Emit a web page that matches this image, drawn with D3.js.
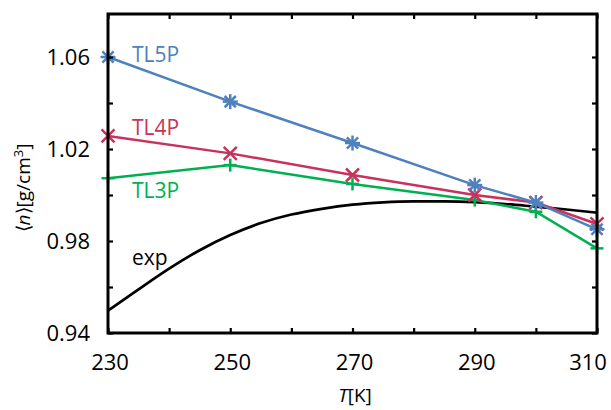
<!DOCTYPE html>
<html>
<head>
<meta charset="utf-8">
<script src="https://cdn.jsdelivr.net/npm/d3@7"></script>
<style>
  html, body { margin: 0; padding: 0; background: #fff; }
  svg { display: block; }
</style>
</head>
<body>
<div id="chart"></div>
<script>
// ── DATA ────────────────────────────────────────────────────────────────
const temps = [230, 250, 270, 290, 300, 310];
const tl5p  = [1.0600, 1.0406, 1.0226, 1.0043, 0.9967, 0.9851];
const tl4p  = [1.0257, 1.0181, 1.0087, 1.0000, 0.9967, 0.9874];
const tl3p  = [1.0073, 1.0130, 1.0048, 0.9978, 0.9927, 0.9768];

const expT = [230, 235, 240, 245, 250, 255, 260, 265, 270, 275, 280, 285, 290, 295, 300, 305, 310];
const expN = [0.9497, 0.9590, 0.9680, 0.9760, 0.9826, 0.9878, 0.9915, 0.9940, 0.9958,
              0.9968, 0.9972, 0.9972, 0.9969, 0.9961, 0.9949, 0.9937, 0.9923];

const xLabels = [230, 250, 270, 290, 310];
const yLabels = [0.94, 0.98, 1.02, 1.06];

const series = [
  { key: "TL3P", values: tl3p, color: "#00b050", marker: "plus",     lx: 132, ly: 198 },
  { key: "TL4P", values: tl4p, color: "#c8325c", marker: "cross",    lx: 132, ly: 135 },
  { key: "TL5P", values: tl5p, color: "#4f81bd", marker: "asterisk", lx: 132, ly: 62 },
];

// ── LAYOUT ──────────────────────────────────────────────────────────────
const totalW = 611, totalH = 410;
const margin = { top: 14, right: 14, bottom: 77, left: 108 };
const W = totalW - margin.left - margin.right;
const H = totalH - margin.top - margin.bottom;
const FONT = "'Open Sans', 'Noto Sans', sans-serif";

const x = d3.scaleLinear().domain([230, 310]).range([0, W]);
const y = d3.scaleLinear().domain([0.94, 1.0787]).range([H, 0]);

const svg = d3.select("#chart").append("svg")
  .attr("width", totalW)
  .attr("height", totalH);

svg.append("rect").attr("width", totalW).attr("height", totalH).attr("fill", "#fff");

const g = svg.append("g").attr("transform", `translate(${margin.left},${margin.top})`);

// ── CURVES ──────────────────────────────────────────────────────────────
const expLine = d3.line()
  .x((d, i) => x(expT[i]))
  .y(d => y(d))
  .curve(d3.curveMonotoneX);

g.append("path")
  .datum(expN)
  .attr("fill", "none")
  .attr("stroke", "#000")
  .attr("stroke-width", 2.7)
  .attr("d", expLine);

const simLine = d3.line()
  .x((d, i) => x(temps[i]))
  .y(d => y(d));

function marker(sel, type, color) {
  const r = type === "asterisk" ? 7.5 : 6.5;
  const segs = [];
  if (type === "plus" || type === "asterisk") {
    segs.push([-r, 0, r, 0], [0, -r, 0, r]);
  }
  if (type === "cross" || type === "asterisk") {
    const q = type === "asterisk" ? r * 0.75 : r;
    segs.push([-q, -q, q, q], [-q, q, q, -q]);
  }
  segs.forEach(s => {
    sel.append("line")
      .attr("x1", s[0]).attr("y1", s[1])
      .attr("x2", s[2]).attr("y2", s[3])
      .attr("stroke", color)
      .attr("stroke-width", 2.5);
  });
}

series.forEach(s => {
  g.append("path")
    .datum(s.values)
    .attr("fill", "none")
    .attr("stroke", s.color)
    .attr("stroke-width", 2.5)
    .attr("d", simLine);

  s.values.forEach((v, i) => {
    const m = g.append("g").attr("transform", `translate(${x(temps[i])},${y(v)})`);
    marker(m, s.marker, s.color);
  });

  svg.append("text")
    .attr("x", s.lx)
    .attr("y", s.ly)
    .attr("fill", s.color)
    .attr("font-family", FONT)
    .attr("font-size", "21px")
    .text(s.key);
});

svg.append("text")
  .attr("x", 132)
  .attr("y", 265)
  .attr("fill", "#000")
  .attr("font-family", FONT)
  .attr("font-size", "21px")
  .text("exp");

// ── FRAME & TICKS ───────────────────────────────────────────────────────
const tickLen = 5;
const xTicks = d3.range(230, 311, 10);
const yTicks = d3.range(0.94, 1.0787, 0.02);

g.append("g")
  .attr("transform", `translate(0,${H})`)
  .call(d3.axisBottom(x).tickValues(xTicks).tickSize(-tickLen).tickFormat(""))
  .call(ax => ax.select(".domain").remove());
g.append("g")
  .call(d3.axisTop(x).tickValues(xTicks).tickSize(-tickLen).tickFormat(""))
  .call(ax => ax.select(".domain").remove());
g.append("g")
  .call(d3.axisLeft(y).tickValues(yTicks).tickSize(-tickLen).tickFormat(""))
  .call(ax => ax.select(".domain").remove());
g.append("g")
  .attr("transform", `translate(${W},0)`)
  .call(d3.axisRight(y).tickValues(yTicks).tickSize(-tickLen).tickFormat(""))
  .call(ax => ax.select(".domain").remove());
g.selectAll(".tick line").attr("stroke", "#000").attr("stroke-width", 2.2);

g.append("rect")
  .attr("width", W)
  .attr("height", H)
  .attr("fill", "none")
  .attr("stroke", "#000")
  .attr("stroke-width", 3);

// ── TICK LABELS ─────────────────────────────────────────────────────────
g.selectAll(".xlab")
  .data(xLabels)
  .enter().append("text")
  .attr("x", d => x(d))
  .attr("y", H + 37)
  .attr("dx", d => d === 310 ? -9 : 2)
  .attr("text-anchor", "middle")
  .attr("font-family", FONT)
  .attr("font-size", "22px")
  .attr("fill", "#000")
  .text(d => d);

g.selectAll(".ylab")
  .data(yLabels)
  .enter().append("text")
  .attr("x", -18)
  .attr("y", d => y(d))
  .attr("dy", "0.36em")
  .attr("text-anchor", "end")
  .attr("font-family", FONT)
  .attr("font-size", "22px")
  .attr("fill", "#000")
  .text(d => d3.format(".2f")(d));

// ── AXIS TITLES ─────────────────────────────────────────────────────────
const xt = svg.append("text")
  .attr("x", 355)
  .attr("y", 402)
  .attr("text-anchor", "middle")
  .attr("font-family", FONT)
  .attr("font-size", "19px")
  .attr("fill", "#000");
xt.append("tspan").attr("font-style", "italic").text("T");
xt.append("tspan").text("[K]");

const yt = svg.append("text")
  .attr("transform", "translate(30,188) rotate(-90)")
  .attr("text-anchor", "middle")
  .attr("font-family", FONT)
  .attr("font-size", "19px")
  .attr("fill", "#000");
yt.append("tspan").text("\u27E8");
yt.append("tspan").attr("font-style", "italic").text("n");
yt.append("tspan").text("\u27E9[g/cm");
yt.append("tspan").attr("font-size", "13px").attr("dy", "-7").text("3");
yt.append("tspan").attr("dy", "7").text("]");
</script>
</body>
</html>
